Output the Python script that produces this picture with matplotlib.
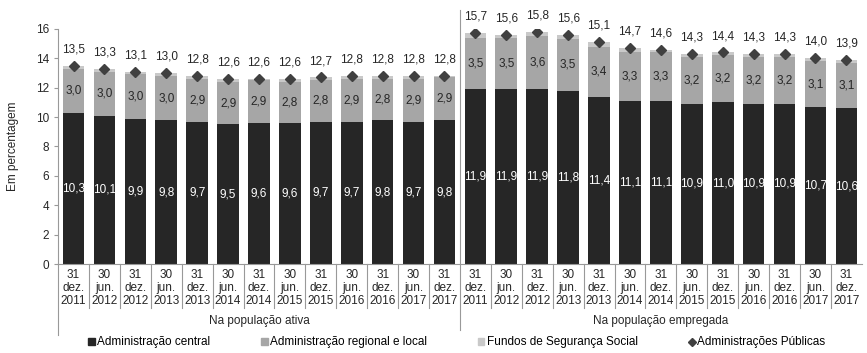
import numpy as np
import matplotlib.pyplot as plt
from matplotlib.patches import Patch
from matplotlib.lines import Line2D

plt.rcParams['font.family'] = ['Liberation Sans', 'DejaVu Sans']

dates = ['31\ndez.\n2011', '30\njun.\n2012', '31\ndez.\n2012', '30\njun.\n2013',
         '31\ndez.\n2013', '30\njun.\n2014', '31\ndez.\n2014', '30\njun.\n2015',
         '31\ndez.\n2015', '30\njun.\n2016', '31\ndez.\n2016', '30\njun.\n2017',
         '31\ndez.\n2017']
groups = ['Na população ativa', 'Na população empregada']

# na populacao ativa
central_a = [10.3, 10.1, 9.9, 9.8, 9.7, 9.5, 9.6, 9.6, 9.7, 9.7, 9.8, 9.7, 9.8]
regional_a = [3.0, 3.0, 3.0, 3.0, 2.9, 2.9, 2.9, 2.8, 2.8, 2.9, 2.8, 2.9, 2.9]
total_a = [13.5, 13.3, 13.1, 13.0, 12.8, 12.6, 12.6, 12.6, 12.7, 12.8, 12.8, 12.8, 12.8]

# na populacao empregada
central_e = [11.9, 11.9, 11.9, 11.8, 11.4, 11.1, 11.1, 10.9, 11.0, 10.9, 10.9, 10.7, 10.6]
regional_e = [3.5, 3.5, 3.6, 3.5, 3.4, 3.3, 3.3, 3.2, 3.2, 3.2, 3.2, 3.1, 3.1]
total_e = [15.7, 15.6, 15.8, 15.6, 15.1, 14.7, 14.6, 14.3, 14.4, 14.3, 14.3, 14.0, 13.9]

central = np.array(central_a + central_e)
regional = np.array(regional_a + regional_e)
total = np.array(total_a + total_e)
social = np.round(total - central - regional, 1)   # fundos de seguranca social

c_central = '#262626'
c_regional = '#a6a6a6'
c_social = '#c9c9c9'
c_total = '#404040'
fs = 8.5

fig = plt.figure(figsize=(8.67, 3.53), dpi=100)
ax = fig.add_axes([0.067, 0.252, 0.927, 0.666])

n = len(central)
x = np.arange(n)
w = 0.7
ax.bar(x, central, w, color=c_central)
ax.bar(x, regional, w, bottom=central, color=c_regional)
ax.bar(x, social, w, bottom=central + regional, color=c_social)
ax.plot(x, total, linestyle='none', marker='D', markersize=5, color=c_total)

fmt = lambda v: ('%.1f' % v).replace('.', ',')
for i in range(n):
    ax.text(x[i], central[i] / 2, fmt(central[i]), ha='center', va='center',
            color='white', fontsize=fs)
    ax.text(x[i], central[i] + regional[i] / 2, fmt(regional[i]), ha='center',
            va='center', color='#262626', fontsize=fs)
    ax.annotate(fmt(total[i]), (x[i], total[i]), xytext=(0, 7.5),
                textcoords='offset points', ha='center', va='bottom',
                fontsize=fs, color='#262626', annotation_clip=False)

ax.set_xlim(-0.5, n - 0.5)
ax.set_ylim(0, 16)
ax.set_yticks(range(0, 17, 2))
ax.tick_params(axis='y', labelsize=fs, colors='#262626', length=3, color='#999999')
ax.set_xticks([])
ax.set_ylabel('Em percentagem', fontsize=fs, color='#262626', labelpad=12)

for s in ['top', 'right']:
    ax.spines[s].set_visible(False)
ax.spines['bottom'].set_color('#999999')
ax.spines['left'].set_color('#999999')
ax.spines['left'].set_bounds(0, 16)

trans = ax.get_xaxis_transform()
# category labels and separators
for i in range(n):
    ax.text(x[i], -0.022, dates[i % 13], transform=trans, ha='center', va='top',
            fontsize=fs, color='#262626', linespacing=1.12)
for i in range(1, n):
    if i == 13:
        continue
    ax.plot([i - 0.5, i - 0.5], [0, -0.185], transform=trans, color='#999999',
            lw=0.8, clip_on=False)
ax.plot([-0.5, -0.5], [0, -0.30], transform=trans, color='#999999', lw=0.8, clip_on=False)
ax.plot([12.5, 12.5], [1.08, -0.28], transform=trans, color='#999999', lw=0.8, clip_on=False)

ax.text(6, -0.243, groups[0], transform=trans, ha='center', va='center',
        fontsize=fs, color='#262626')
ax.text(19, -0.243, groups[1], transform=trans, ha='center', va='center',
        fontsize=fs, color='#262626')

handles = [Patch(color=c_central, label='Administração central'),
           Patch(color=c_regional, label='Administração regional e local'),
           Patch(color=c_social, label='Fundos de Segurança Social'),
           Line2D([], [], linestyle='none', marker='D', markersize=4, color=c_total,
                  label='Administrações Públicas')]
fig.legend(handles=handles, loc='center', bbox_to_anchor=(0.527, 0.03), ncol=4,
           frameon=False, fontsize=fs, handlelength=0.55, handleheight=0.55,
           handletextpad=0.2, columnspacing=4.3)

fig.savefig('out.png', dpi=100)
